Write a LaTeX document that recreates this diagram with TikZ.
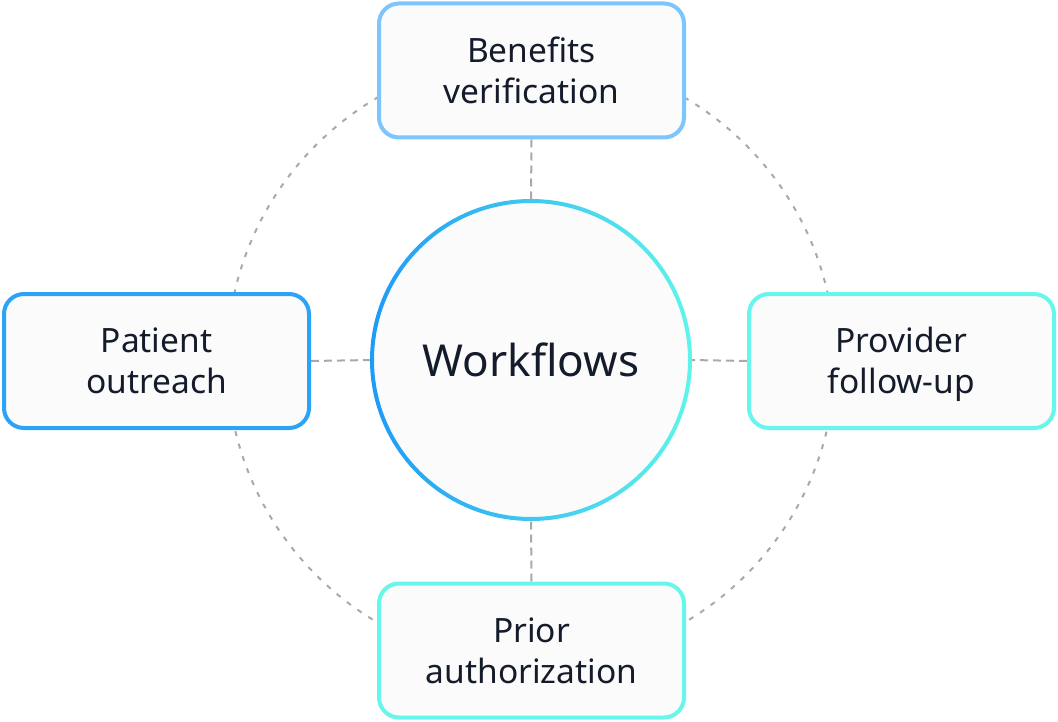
\documentclass[tikz,border=0pt]{standalone}
\usepackage{fontspec}
\setmainfont{Noto Sans}
\usetikzlibrary{backgrounds}
\definecolor{txt}{HTML}{141B2B}
\definecolor{boxfill}{HTML}{FBFBFC}
\definecolor{cblue}{HTML}{2BA3F7}
\definecolor{clight}{HTML}{7DC6FD}
\definecolor{ccyan}{HTML}{67F6EC}
\definecolor{gleft}{HTML}{1E9BF6}
\definecolor{gright}{HTML}{5FF5EA}
\definecolor{dashgray}{HTML}{A9A9AD}
\newcommand\mytopstrut{\rule{0pt}{37pt}}
\tikzset{
  wbox/.style={rectangle, rounded corners=20pt, minimum width=305pt, minimum height=134pt,
    line width=4pt, fill=boxfill, align=center, text=txt,
    font=\fontsize{33.5pt}{41pt}\selectfont},
  hub/.style={circle, minimum size=318pt, inner sep=0pt, fill=boxfill, text=txt,
    font=\fontsize{44pt}{52pt}\selectfont},
  link/.style={draw=dashgray, line width=2pt, dash pattern=on 8pt off 5pt},
  orbit/.style={draw=dashgray, line width=2pt, dash pattern=on 5pt off 8pt},
}
\begin{document}
\begin{tikzpicture}[x=1pt,y=-1pt]
\useasboundingbox (0,0) rectangle (1058,722);
\node[hub] (wf) at (531,360) {Workflows};
\shade[left color=gleft, right color=gright, even odd rule] (wf.center) circle (161pt) (wf.center) circle (157pt);
\node[wbox, draw=clight] (ben) at (531.5,70.5) {\mytopstrut Benefits\\verification\strut};
\node[wbox, draw=cblue] (pat) at (156.5,361) {\mytopstrut Patient\\outreach\strut};
\node[wbox, draw=ccyan] (pro) at (901.5,361) {\mytopstrut Provider\\follow-up\strut};
\node[wbox, draw=ccyan] (pri) at (531.5,650.5) {\mytopstrut Prior\\authorization\strut};
\begin{scope}[on background layer]
\draw[orbit] (wf.center) circle (304pt);
\draw[link] (ben.south) -- (wf.north);
\draw[link] (pri.north) -- (wf.south);
\draw[link] (pat.east) -- (wf.west);
\draw[link] (pro.west) -- (wf.east);
\end{scope}
\end{tikzpicture}
\end{document}
